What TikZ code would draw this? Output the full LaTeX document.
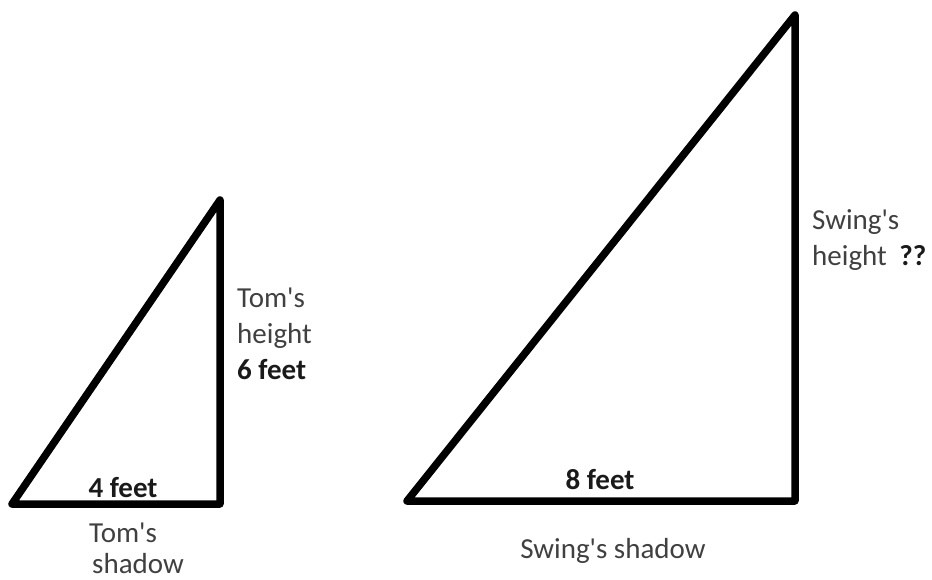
\documentclass[tikz,border=0pt]{standalone}
\usepackage{fontspec}
\setmainfont{Carlito}[Ligatures=TeXOff]
\usepackage{xcolor}
\usepackage{tikz}
\usetikzlibrary{positioning,calc}
\definecolor{textgray}{HTML}{404040}
\definecolor{numblack}{HTML}{1A1A1A}

\begin{document}
\begin{tikzpicture}[x=1pt,y=-1pt,
  side/.style={line width=7.5pt,line join=round,line cap=round,draw=black},
  lbl/.style={font=\fontsize{29}{36}\selectfont,text=textgray,inner sep=0pt,align=left},
  num/.style={font=\fontsize{29}{36}\selectfont\bfseries,text=numblack,inner sep=0pt}
]
  \useasboundingbox (0,0) rectangle (932,580);
  % small triangle
  \coordinate (tomL) at (12,504);
  \coordinate (tomT) at (220,200);
  \coordinate (tomR) at (220,504);
  \draw[side] (tomL)--(tomT)--(tomR)--cycle;
  % large triangle
  \coordinate (swL) at (407,501);
  \coordinate (swT) at (795,15);
  \coordinate (swR) at (795,501);
  \draw[side] (swL)--(swT)--(swR)--cycle;
  % labels
  \node[num] (tomBase) at (123,488) {4 feet};
  \node[lbl,anchor=west] (tomHeight) at (237,334) {Tom's\\height\\\textbf{\color{numblack}6 feet}};
  \node[lbl,anchor=west,font=\fontsize{29}{31}\selectfont] (tomShadow) at (89,548) {Tom's\\\hspace*{3pt}shadow};
  \node[num] (swBase) at (600,480) {8 feet};
  \node[lbl,anchor=west] (swHeight) at (812,240) {Swing's\\height\hspace*{6pt} \textbf{\color{numblack}??}};
  \node[lbl] (swShadow) at (613,551) {Swing's shadow};
\end{tikzpicture}
\end{document}
